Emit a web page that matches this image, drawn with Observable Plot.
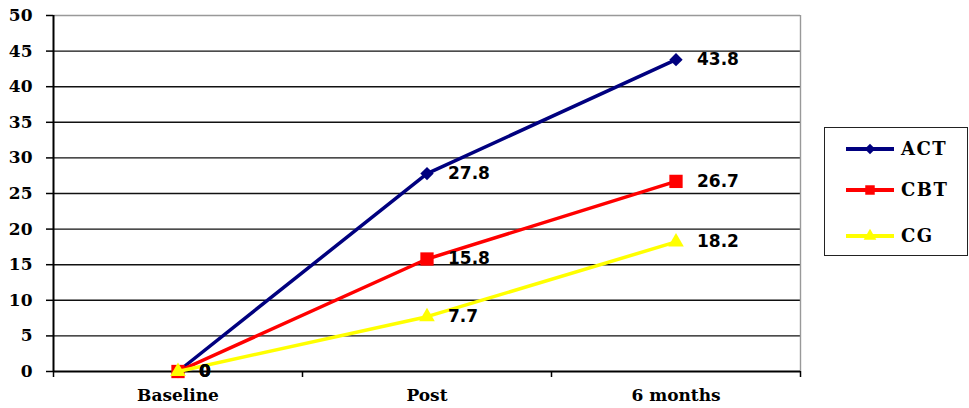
<!DOCTYPE html>
<html><head><meta charset="utf-8">
<script src="https://cdn.jsdelivr.net/npm/d3@7"></script>
<script src="https://cdn.jsdelivr.net/npm/@observablehq/plot@0.6"></script>
<style>
body{margin:0;background:#fff;}
#wrap{position:relative;width:969px;height:408px;overflow:hidden;background:#fff;}
#legend{position:absolute;left:824px;top:127px;width:144px;height:129px;border:1.5px solid #222;box-sizing:border-box;background:#fff;}
</style></head><body><div id="wrap"><div id="legend"></div></div>
<script>
const categories = ["Baseline", "Post", "6 months"];
const seriesNames = ["ACT", "CBT", "CG"];
const actValues = [0, 27.8, 43.8];
const cbtValues = [0, 15.8, 26.7];
const cgValues = [0, 7.7, 18.2];
const seriesValues = [actValues, cbtValues, cgValues];
const seriesColors = ["#00007f", "#ff0000", "#ffff00"];
const seriesSymbols = ["diamond2", "square", "triangle"];
const seriesR = [6, 7.5, 5.8];
const yTicks = d3.range(0, 51, 5);

const data = seriesNames.flatMap((s, si) =>
  categories.map((c, ci) => ({series: s, cat: c, xi: ci + 0.5, value: seriesValues[si][ci]})));

const seriesMarks = seriesNames.flatMap((s, si) => {
  const rows = data.filter(d => d.series === s);
  return [
    Plot.line(rows, {x: "xi", y: "value", stroke: seriesColors[si], strokeWidth: 3.5}),
    Plot.dot(rows, {x: "xi", y: "value", symbol: seriesSymbols[si], r: seriesR[si], fill: seriesColors[si], stroke: "none"})
  ];
});

const chart = Plot.plot({
  width: 969,
  height: 408,
  marginLeft: 53,
  marginRight: 169,
  marginTop: 15,
  marginBottom: 37,
  style: {fontFamily: "DejaVu Serif", fontSize: "17px", fontWeight: "bold", background: "#fff", color: "#000"},
  x: {type: "linear", domain: [0, 3]},
  y: {domain: [0, 50]},
  marks: [
    Plot.ruleY(yTicks.filter(t => t > 0 && t < 50), {stroke: "#111", strokeWidth: 1.4}),
    Plot.ruleY([50], {stroke: "#999", strokeWidth: 1.4}),
    Plot.ruleX([3], {stroke: "#999", strokeWidth: 1.4}),
    Plot.axisY({ticks: yTicks, tickSize: 7, tickPadding: 14, tickFormat: d => String(d), strokeWidth: 1.5, label: null}),
    Plot.axisX({ticks: [0, 1, 2, 3], tickSize: 6, tickFormat: () => "", strokeWidth: 1.5, label: null}),
    Plot.axisX({ticks: [0.5, 1.5, 2.5], tickSize: 0, tickPadding: 17, tickFormat: d => categories[Math.round(d - 0.5)], label: null}),
    Plot.ruleX([0], {stroke: "#000", strokeWidth: 2}),
    Plot.ruleY([0], {stroke: "#000", strokeWidth: 2}),
    ...seriesMarks,
    Plot.text(data, {x: "xi", y: "value", text: d => String(d.value), dx: 21, textAnchor: "start",
      fontFamily: "DejaVu Sans", fontWeight: "bold", fontSize: 17, fill: "#000"})
  ]
});
document.getElementById("wrap").prepend(chart);

// legend
const lg = d3.select("#legend").append("svg").attr("width", 141).attr("height", 126);
const rowsY = [21, 62, 108];
seriesNames.forEach((s, i) => {
  const g = lg.append("g").attr("transform", `translate(0,${rowsY[i]})`);
  g.append("line").attr("x1", 21).attr("x2", 69).attr("y1", 0).attr("y2", 0)
    .attr("stroke", seriesColors[i]).attr("stroke-width", 4);
  const sym = [d3.symbolDiamond2, d3.symbolSquare, d3.symbolTriangle][i];
  g.append("path").attr("d", d3.symbol(sym, [70, 90, 70][i])()).attr("transform", "translate(45,0)")
    .attr("fill", seriesColors[i]);
  g.append("text").attr("x", 76).attr("y", 0).attr("dy", "0.36em").text(s)
    .style("font-family", "DejaVu Serif").style("font-weight", "bold").style("font-size", "18px")
    .style("letter-spacing", "1.5px");
});
</script>
</body></html>
